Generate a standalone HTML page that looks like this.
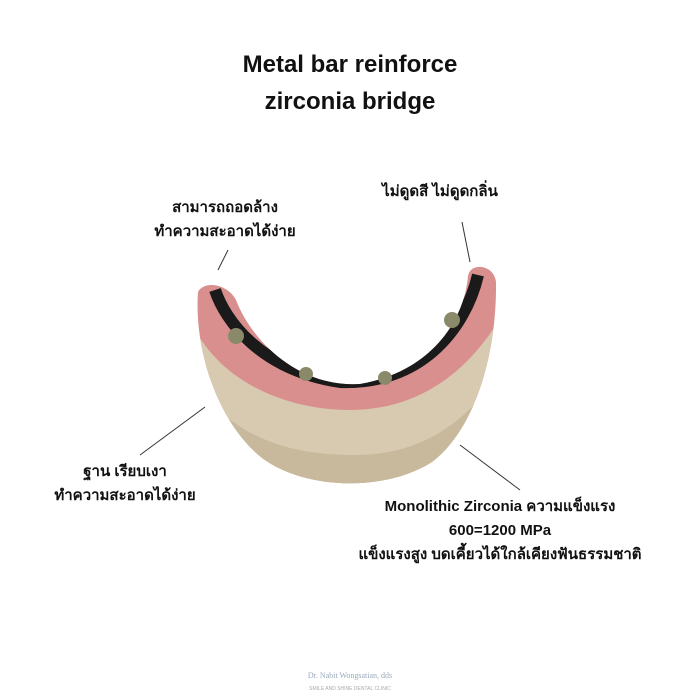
<!DOCTYPE html>
<html><head><meta charset="utf-8"><style>
body{margin:0;background:#fff;width:700px;height:700px;overflow:hidden;font-family:"Liberation Sans","Noto Sans CJK SC",sans-serif}
.t{position:absolute;text-align:center;font-weight:bold;color:#111;white-space:nowrap}
</style></head><body>
<div class="t" style="left:0;width:700px;top:46px;font-size:24px;line-height:37px">Metal bar reinforce<br>zirconia bridge</div>
<div class="t" style="left:150px;width:150px;top:196px;font-size:15px;line-height:24px">สามารถถอดล้าง<br>ทำความสะอาดได้ง่าย</div>
<div class="t" style="left:360px;width:160px;top:180px;font-size:15px;line-height:24px">ไม่ดูดสี ไม่ดูดกลิ่น</div>
<div class="t" style="left:40px;width:170px;top:460px;font-size:15px;line-height:24px">ฐาน เรียบเงา<br>ทำความสะอาดได้ง่าย</div>
<div class="t" style="left:330px;width:340px;top:495px;font-size:15px;line-height:24px">Monolithic Zirconia ความแข็งแรง<br>600=1200 MPa<br>แข็งแรงสูง บดเคี้ยวได้ใกล้เคียงฟันธรรมชาติ</div>
<svg width="700" height="700" style="position:absolute;left:0;top:0">
<defs><clipPath id="c"><path d="M198,292 C194,345 215,420 262,458 C305,490 385,492 432,462 C472,432 497,360 496,282 C494,264 470,262 468,276 C464,322 430,372 360,384 C300,388 252,342 236,300 C228,284 204,280 198,292 Z"/></clipPath></defs>
<g stroke="#333" stroke-width="1"><line x1="218" y1="270" x2="228" y2="250"/><line x1="470" y1="262" x2="462" y2="222"/><line x1="205" y1="407" x2="140" y2="455"/><line x1="460" y1="445" x2="520" y2="490"/></g>
<g clip-path="url(#c)">
<rect x="180" y="250" width="340" height="250" fill="#d98f8e"/>
<path d="M190,320 C220,385 290,410 350,410 C420,410 475,370 510,300 L520,500 L180,500Z" fill="#d8cab0"/>
<path d="M190,380 C240,445 300,455 355,455 C425,455 470,420 510,360 L520,500 L180,500Z" fill="#c8b99c"/>
<path d="M215,290 C225,320 260,370 340,382 C420,385 465,330 478,275" fill="none" stroke="#1a1a1a" stroke-width="12"/>
<path d="M190,430 C240,485 300,492 360,492 C420,492 470,465 510,420 L520,500 L180,500Z" fill="#a5786e"/>
</g>
<g fill="#8a8a6a"><circle cx="236" cy="336" r="8"/><circle cx="306" cy="374" r="7"/><circle cx="385" cy="378" r="7"/><circle cx="452" cy="320" r="8"/></g>
<text x="350" y="678" text-anchor="middle" font-size="8" fill="#9ab" font-family="Liberation Serif">Dr. Nabit Wongsatian, dds</text>
<text x="350" y="690" text-anchor="middle" font-size="5" fill="#aaa">SMILE AND SHINE DENTAL CLINIC</text>
</svg>
</body></html>
